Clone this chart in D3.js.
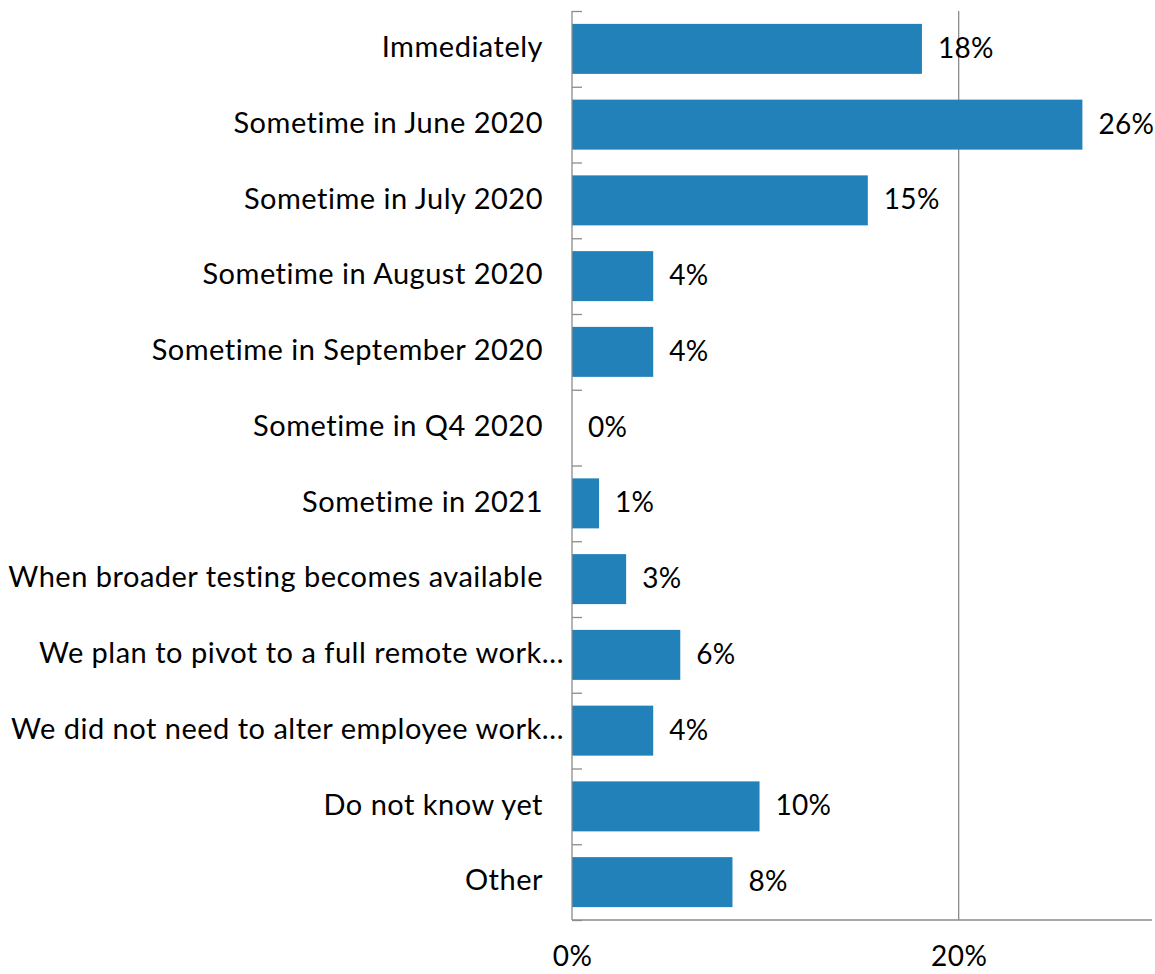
<!DOCTYPE html>
<html><head><meta charset="utf-8">
<script src="https://cdn.jsdelivr.net/npm/d3@7"></script>
<style>body{margin:0;background:#fff}svg{display:block}</style>
</head><body>
<svg id="c" width="1155" height="974"></svg>
<script>
const categories = ["Immediately","Sometime in June 2020","Sometime in July 2020","Sometime in August 2020","Sometime in September 2020","Sometime in Q4 2020","Sometime in 2021","When broader testing becomes available","We plan to pivot to a full remote work…","We did not need to alter employee work…","Do not know yet","Other"];
const values = [18.1, 26.4, 15.3, 4.2, 4.2, 0, 1.4, 2.8, 5.6, 4.2, 9.7, 8.3];
const valueLabels = ["18%","26%","15%","4%","4%","0%","1%","3%","6%","4%","10%","8%"];
const xTicks = [0, 20];
const xTickLabels = ["0%","20%"];

const svg = d3.select("#c");
const m = {left:572, right:1152, top:11, bottom:920};
const x = d3.scaleLinear().domain([0,30]).range([m.left, m.right]);
const y = d3.scaleBand().domain(categories).range([m.top, m.bottom]).paddingInner(0.34).paddingOuter(0.17);
const font = "Lato, 'Open Sans', sans-serif";

// gridline
svg.selectAll(".grid").data(xTicks.filter(d=>d>0)).join("line")
  .attr("x1",d=>x(d)).attr("x2",d=>x(d)).attr("y1",m.top).attr("y2",m.bottom)
  .attr("stroke","#8c8c8c").attr("stroke-width",1.3);

// bars
svg.selectAll(".bar").data(values).join("rect")
  .attr("x",x(0)).attr("y",(d,i)=>y(categories[i]))
  .attr("width",d=>x(d)-x(0)).attr("height",y.bandwidth())
  .attr("fill","#2281b9");

// y axis with ticks pointing right
const yAxis = d3.axisRight(d3.scaleLinear().domain([0,categories.length]).range([m.top,m.bottom]))
  .tickValues(d3.range(categories.length+1)).tickSize(10).tickFormat("");
const ga = svg.append("g").attr("transform",`translate(${m.left},0)`).call(yAxis);
ga.select(".domain").attr("stroke","#8c8c8c").attr("stroke-width",1.3).attr("d",`M0,${m.top}V${m.bottom}`);
ga.selectAll(".tick line").attr("stroke","#8c8c8c").attr("stroke-width",1.3);

// x axis
const xAxis = d3.axisBottom(x).tickValues(xTicks).tickSize(0).tickFormat((d,i)=>xTickLabels[i]);
const gx = svg.append("g").attr("transform",`translate(0,${m.bottom})`).call(xAxis);
gx.select(".domain").attr("stroke","#8c8c8c").attr("stroke-width",1.3).attr("d",`M${m.left},0H${m.right}`);
gx.selectAll("text").attr("font-family",font).attr("font-size",28).attr("fill","#000")
  .attr("dy",0).attr("y",46).attr("letter-spacing",0.5);

// category labels
svg.selectAll(".cat").data(categories).join("text")
  .attr("x",d=>d.endsWith("…")?564:543)
  .attr("y",d=>y(d)+y.bandwidth()/2+1)
  .attr("text-anchor","end").attr("dominant-baseline","middle")
  .attr("font-family",font).attr("font-size",29).attr("letter-spacing",0.5).attr("fill","#000")
  .text(d=>d);

// value labels
svg.selectAll(".val").data(values).join("text")
  .attr("x",d=>x(d)+16)
  .attr("y",(d,i)=>y(categories[i])+y.bandwidth()/2+2)
  .attr("dominant-baseline","middle")
  .attr("font-family",font).attr("font-size",28).attr("letter-spacing",0.3).attr("fill","#000")
  .text((d,i)=>valueLabels[i]);
</script>
</body></html>
